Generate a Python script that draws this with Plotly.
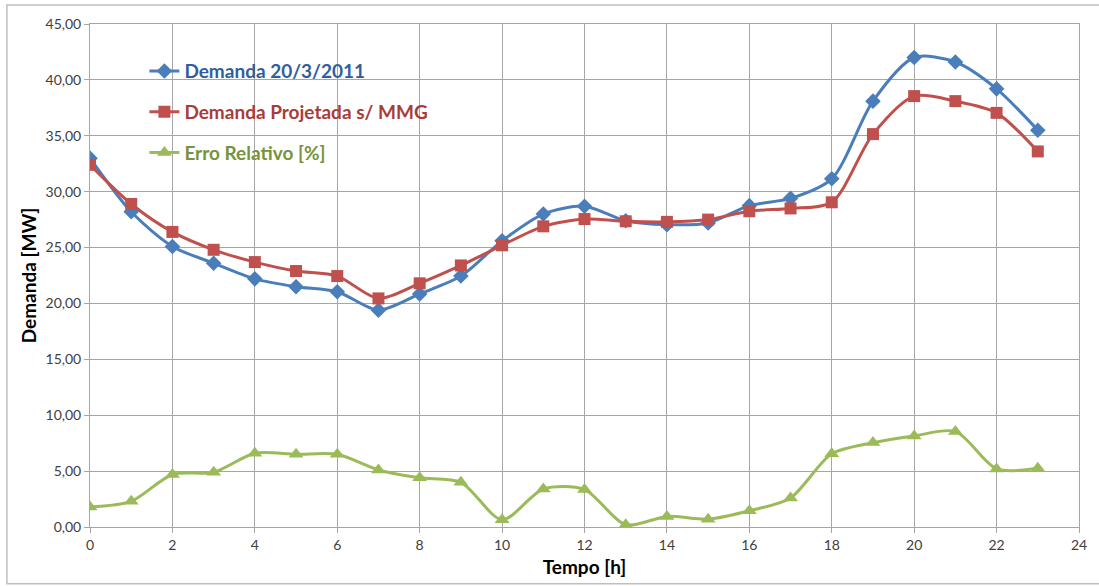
import plotly.graph_objects as go

# Hourly demand profile (MW) and relative error (%)
horas = list(range(24))
demanda_real = [33.0, 28.2, 25.1, 23.6, 22.2, 21.5, 21.05, 19.4, 20.85, 22.45, 25.6, 28.0,
                28.7, 27.4, 27.05, 27.2, 28.75, 29.4, 31.15, 38.1, 42.0, 41.6, 39.2, 35.5]
demanda_projetada = [32.4, 28.9, 26.4, 24.8, 23.7, 22.9, 22.45, 20.45, 21.8, 23.4, 25.2, 26.9,
                     27.55, 27.35, 27.3, 27.5, 28.25, 28.5, 29.05, 35.15, 38.55, 38.1, 37.05, 33.6]
erro_relativo = [1.8, 2.3, 4.7, 4.9, 6.6, 6.5, 6.5, 5.1, 4.4, 4.0, 0.65, 3.4,
                 3.35, 0.2, 0.95, 0.7, 1.45, 2.6, 6.55, 7.55, 8.15, 8.55, 5.2, 5.25]

y_ticks = [0, 5, 10, 15, 20, 25, 30, 35, 40, 45]
x_ticks = list(range(0, 25, 2))

FONT = "Lato, 'Open Sans', sans-serif"

series = [
    ("Demanda 20/3/2011", demanda_real, "#4A7EBB", "#2F5E9E", "diamond", 12),
    ("Demanda Projetada s/ MMG", demanda_projetada, "#C0504D", "#A83C39", "square", 12),
    ("Erro Relativo [%]", erro_relativo, "#9BBB59", "#77933C", "triangle-up", 13),
]

fig = go.Figure()
for i, (nome, vals, cor, cor_txt, simb, tam) in enumerate(series):
    fig.add_trace(go.Scatter(
        x=horas, y=vals, mode="lines+markers",
        name=f"<b><span style='color:{cor_txt}'>{nome}</span></b>",
        legendgroup=f"g{i}",
        line=dict(color=cor, width=3, shape="spline", smoothing=0.8),
        marker=dict(symbol=simb, size=tam, color=cor, line=dict(width=0)),
    ))

grid = "#A6A6A6"
fig.update_layout(
    width=1099, height=586,
    margin=dict(l=90, r=20, t=24, b=59),
    paper_bgcolor="white", plot_bgcolor="white",
    separators=",.",
    font=dict(family=FONT, size=14, color="#404040"),
    showlegend=True,
    legend=dict(
        x=0.055, y=0.944, xanchor="left", yanchor="top",
        bgcolor="rgba(0,0,0,0)",
        font=dict(family=FONT, size=19),
        traceorder="grouped", tracegroupgap=13,
        itemwidth=30,
    ),
    xaxis=dict(
        range=[0, 24], tickvals=x_ticks, tickformat="d",
        showgrid=True, gridcolor=grid, gridwidth=1,
        showline=True, linecolor=grid, linewidth=1, mirror=True,
        ticks="outside", ticklen=5, tickcolor=grid,
        zeroline=False,
        title=dict(text="<b>Tempo [h]</b>", font=dict(family=FONT, size=19, color="black"), standoff=8),
    ),
    yaxis=dict(
        range=[0, 45], tickvals=y_ticks, tickformat=".2f",
        showgrid=True, gridcolor=grid, gridwidth=1,
        showline=True, linecolor=grid, linewidth=1, mirror=True,
        ticks="outside", ticklen=5, tickcolor=grid,
        zeroline=False,
        title=dict(text="<b>Demanda [MW]</b>", font=dict(family=FONT, size=19, color="black"), standoff=3),
    ),
)

# Outer chart frame
fig.add_shape(type="rect", xref="paper", yref="paper",
              x0=-0.084, x1=1.03, y0=-0.113, y1=1.038,
              line=dict(color="#BFBFBF", width=1.5), layer="below")

fig.write_html("out.html")
